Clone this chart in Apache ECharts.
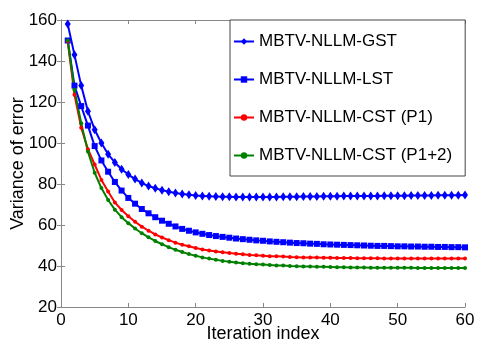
<!DOCTYPE html>
<html>
<head>
<meta charset="utf-8">
<script src="https://cdn.jsdelivr.net/npm/echarts@6/dist/echarts.min.js"></script>
<style>
  html, body { margin: 0; padding: 0; background: #fff; }
  #chart { width: 499px; height: 344px; }
</style>
</head>
<body>
<div id="chart"></div>
<script>
// iteration index 1..60
const iterations = [];
for (let i = 1; i <= 60; i++) iterations.push(i);

const seriesNames = [
  "MBTV-NLLM-GST",
  "MBTV-NLLM-LST",
  "MBTV-NLLM-CST (P1)",
  "MBTV-NLLM-CST (P1+2)",
];

// values
const gst = [
  158, 143, 128, 115.5, 106.5, 100, 94.5, 90.5, 87.2, 84.6,
  82.4, 80.5, 79, 77.9, 77, 76.2, 75.6, 75.1, 74.7, 74.4,
  74.2, 74.0, 73.9, 73.8, 73.8, 73.7, 73.7, 73.7, 73.7, 73.7,
  73.7, 73.7, 73.8, 73.8, 73.8, 73.9, 73.9, 73.9, 74.0, 74.0,
  74.0, 74.1, 74.1, 74.1, 74.2, 74.2, 74.2, 74.3, 74.3, 74.3,
  74.3, 74.4, 74.4, 74.4, 74.4, 74.5, 74.5, 74.5, 74.5, 74.6,
];
const lst = [
  150, 128, 118, 108.5, 98.5, 91.5, 86, 81, 76.8, 73.2,
  70.4, 67.8, 65.7, 63.8, 62.1, 60.6, 59.3, 58.1, 57.2, 56.4,
  55.7, 55.1, 54.6, 54.2, 53.8, 53.4, 53.1, 52.8, 52.5, 52.3,
  52.0, 51.8, 51.6, 51.4, 51.2, 51.1, 50.9, 50.8, 50.6, 50.5,
  50.4, 50.3, 50.2, 50.1, 50.0, 49.9, 49.8, 49.8, 49.7, 49.6,
  49.6, 49.5, 49.5, 49.4, 49.4, 49.3, 49.3, 49.2, 49.2, 49.1,
];
const cstP1 = [
  149.5, 123.5, 107.5, 97, 89.5, 82, 76.3, 71, 67.3, 64.3,
  61.6, 59.2, 57.2, 55.4, 53.9, 52.6, 51.4, 50.4, 49.6, 48.8,
  48.1, 47.6, 47.1, 46.7, 46.3, 46.0, 45.7, 45.4, 45.2, 45.0,
  44.8, 44.7, 44.6, 44.4, 44.3, 44.2, 44.2, 44.1, 44.0, 44.0,
  43.9, 43.9, 43.9, 43.8, 43.8, 43.8, 43.8, 43.7, 43.7, 43.7,
  43.7, 43.7, 43.7, 43.7, 43.6, 43.6, 43.6, 43.6, 43.6, 43.6,
];
const cstP12 = [
  150, 126, 109.6, 95.8, 85.5, 78, 72.2, 67.5, 63.8, 60.9,
  58.3, 56.0, 54.0, 52.2, 50.6, 49.2, 47.9, 46.8, 45.8, 45.0,
  44.2, 43.6, 43.0, 42.5, 42.1, 41.7, 41.4, 41.1, 40.9, 40.7,
  40.5, 40.3, 40.2, 40.0, 39.9, 39.8, 39.7, 39.6, 39.6, 39.5,
  39.4, 39.4, 39.3, 39.3, 39.3, 39.2, 39.2, 39.2, 39.1, 39.1,
  39.1, 39.1, 39.0, 39.0, 39.0, 39.0, 39.0, 39.0, 39.0, 39.0,
];

function pairs(values) {
  return values.map((v, i) => [iterations[i], v]);
}

const font = "Liberation Sans, Arial, sans-serif";
const frameColor = "#888";

const chart = echarts.init(document.getElementById("chart"));
chart.setOption({
  animation: false,
  textStyle: { fontFamily: font },
  grid: { left: 61, right: 34, top: 20, bottom: 37, outerBoundsMode: "none" },
  legend: {
    orient: "vertical",
    left: 230,
    top: 20,
    padding: [12, 13, 11, 3],
    itemGap: 19,
    itemWidth: 20,
    itemHeight: 8,
    backgroundColor: "#fff",
    borderColor: "#444",
    borderWidth: 1,
    textStyle: { fontSize: 17, color: "#000", lineHeight: 19, fontFamily: font },
    data: seriesNames,
  },
  xAxis: [
    {
      type: "value",
      min: 0,
      max: 60,
      interval: 10,
      name: "Iteration index",
      nameLocation: "middle",
      nameGap: 18,
      nameMoveOverlap: false,
      nameTextStyle: { fontSize: 18, color: "#000" },
      axisLine: { show: true, lineStyle: { color: frameColor } },
      axisTick: { inside: true, length: 4, lineStyle: { color: frameColor } },
      axisLabel: { fontSize: 17, color: "#000", margin: 5 },
      splitLine: { show: false },
    },
    {
      type: "value",
      position: "top",
      min: 0,
      max: 60,
      interval: 10,
      axisLine: { show: true, lineStyle: { color: frameColor } },
      axisTick: { inside: true, length: 4, lineStyle: { color: frameColor } },
      axisLabel: { show: false },
      splitLine: { show: false },
    },
  ],
  yAxis: [
    {
      type: "value",
      min: 20,
      max: 160,
      interval: 20,
      name: "Variance of error",
      nameLocation: "middle",
      nameGap: 34,
      nameMoveOverlap: false,
      nameTextStyle: { fontSize: 18, color: "#000" },
      axisLine: { show: true, lineStyle: { color: frameColor } },
      axisTick: { inside: true, length: 4, lineStyle: { color: frameColor } },
      axisLabel: { fontSize: 17, color: "#000", margin: 4 },
      splitLine: { show: false },
    },
    {
      type: "value",
      position: "right",
      min: 20,
      max: 160,
      interval: 20,
      axisLine: { show: true, lineStyle: { color: frameColor } },
      axisTick: { inside: true, length: 4, lineStyle: { color: frameColor } },
      axisLabel: { show: false },
      splitLine: { show: false },
    },
  ],
  series: [
    {
      name: seriesNames[0],
      type: "line",
      data: pairs(gst),
      color: "#0000ff",
      lineStyle: { width: 2 },
      symbol: "diamond",
      symbolSize: [6, 9],
    },
    {
      name: seriesNames[1],
      type: "line",
      data: pairs(lst),
      color: "#0000ff",
      lineStyle: { width: 2 },
      symbol: "rect",
      symbolSize: 6,
    },
    {
      name: seriesNames[2],
      type: "line",
      data: pairs(cstP1),
      color: "#ff0000",
      lineStyle: { width: 2 },
      symbol: "circle",
      symbolSize: 4,
    },
    {
      name: seriesNames[3],
      type: "line",
      data: pairs(cstP12),
      color: "#008000",
      lineStyle: { width: 2 },
      symbol: "circle",
      symbolSize: 4,
    },
  ],
});
</script>
</body>
</html>
